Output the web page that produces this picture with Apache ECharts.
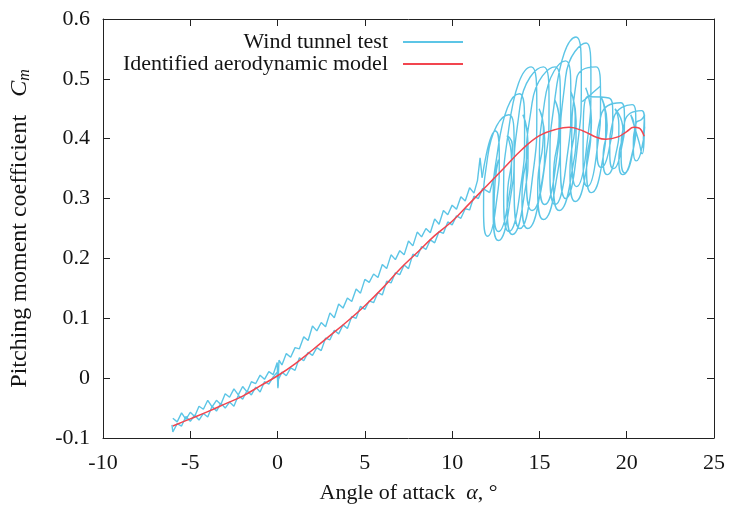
<!DOCTYPE html>
<html>
<head>
<meta charset="utf-8">
<script src="https://cdn.jsdelivr.net/npm/echarts@6/dist/echarts.min.js"></script>
<style>html,body{margin:0;padding:0;background:#fff}#c{width:731px;height:509px}</style>
</head>
<body>
<div id="c"></div>
<script>
// ---- data ----
const xTicks = [-10, -5, 0, 5, 10, 15, 20, 25];
const yTicks = [-0.1, 0, 0.1, 0.2, 0.3, 0.4, 0.5, 0.6];

// Identified aerodynamic model
const modelAlpha = [-6,-5,-4,-3,-2,-1,0,1,2,3,4,5,6,7,8,9,10,11,12,13,14,15,16,16.7,17.5,18.3,18.8,19.5,20,20.4,20.7,21];
const modelCm = [-0.080,-0.068,-0.056,-0.043,-0.030,-0.013,0.004,0.024,0.047,0.071,0.095,0.121,0.150,0.182,0.210,0.238,0.262,0.292,0.322,0.352,0.382,0.405,0.416,0.419,0.413,0.402,0.399,0.403,0.412,0.419,0.418,0.404];

// Wind tunnel test: upper (increasing) branch
const testUp = [[-6.00,-0.067],[-5.75,-0.073],[-5.50,-0.058],[-5.25,-0.069],[-5.00,-0.057],[-4.75,-0.064],[-4.50,-0.047],[-4.25,-0.052],[-4.00,-0.037],[-3.75,-0.048],[-3.50,-0.037],[-3.25,-0.044],[-3.00,-0.026],[-2.75,-0.032],[-2.50,-0.018],[-2.25,-0.028],[-2.00,-0.014],[-1.75,-0.023],[-1.50,-0.006],[-1.25,-0.009],[-1.00,0.005],[-0.75,-0.002],[-0.50,0.011],[-0.25,0.006],[-0.02,0.026],[0.02,-0.014],[0.08,0.030],[0.25,0.022],[0.50,0.041],[0.75,0.035],[1.00,0.051],[1.25,0.049],[1.50,0.069],[1.75,0.063],[2.00,0.087],[2.25,0.079],[2.50,0.093],[2.75,0.086],[3.00,0.109],[3.25,0.101],[3.50,0.124],[3.75,0.117],[4.00,0.134],[4.25,0.128],[4.50,0.149],[4.75,0.142],[5.00,0.165],[5.25,0.160],[5.50,0.174],[5.75,0.168],[6.00,0.190],[6.25,0.183],[6.50,0.206],[6.75,0.198],[7.00,0.213],[7.25,0.206],[7.50,0.229],[7.75,0.221],[8.00,0.244],[8.25,0.236],[8.50,0.250],[8.75,0.243],[9.00,0.266],[9.25,0.257],[9.50,0.280],[9.75,0.273],[10.00,0.289],[10.25,0.282],[10.50,0.303],[10.75,0.296],[11.00,0.318],[11.25,0.309],[11.45,0.330],[11.60,0.368],[11.72,0.335]];

// Wind tunnel test: oscillation loops at high angle of attack
const testLoops = [[11.72,0.335],
[12.48,0.413],[12.70,0.369],[12.48,0.281],[12.03,0.237],[11.80,0.281],[12.03,0.369],
[13.25,0.440],[13.55,0.388],[13.25,0.283],[12.65,0.230],[12.35,0.283],[12.65,0.388],
[13.85,0.475],[14.15,0.418],[13.85,0.303],[13.25,0.245],[12.95,0.303],[13.25,0.418],
[14.53,0.520],[14.85,0.453],[14.53,0.318],[13.88,0.250],[13.55,0.318],[13.88,0.453],
[15.23,0.520],[15.55,0.460],[15.23,0.340],[14.58,0.280],[14.25,0.340],[14.58,0.460],
[15.90,0.520],[16.20,0.463],[15.90,0.348],[15.30,0.290],[15.00,0.348],[15.30,0.463],
[16.50,0.530],[16.80,0.470],[16.50,0.350],[15.90,0.290],[15.60,0.350],[15.90,0.470],
[17.10,0.570],[17.40,0.503],[17.10,0.368],[16.50,0.300],[16.20,0.368],[16.50,0.503],
[17.68,0.560],[17.95,0.500],[17.68,0.380],[17.13,0.320],[16.85,0.380],[17.13,0.500],
[18.25,0.520],[18.50,0.470],[18.25,0.370],[17.75,0.320],[17.50,0.370],[17.75,0.470],
[18.98,0.468],[19.20,0.439],[18.98,0.381],[18.53,0.352],[18.30,0.381],[18.53,0.439],
[19.66,0.460],[19.87,0.433],[19.66,0.378],[19.24,0.350],[19.03,0.378],[19.24,0.433],
[20.31,0.457],[20.52,0.429],[20.31,0.372],[19.89,0.343],[19.68,0.372],[19.89,0.429],
[20.86,0.447],[21.02,0.426],[20.86,0.384],[20.54,0.363],[20.38,0.384],[20.54,0.426],
[20.85,0.432],[21.02,0.440],[20.95,0.400],[21.03,0.420],[20.92,0.385],[21.00,0.405],[20.88,0.375],[20.70,0.395],
[20.23,0.440],[20.45,0.415],[20.23,0.365],[19.78,0.340],[19.55,0.365],[19.78,0.415],
[19.33,0.450],[19.55,0.423],[19.33,0.368],[18.88,0.340],[18.65,0.368],[18.88,0.423],
[18.53,0.470],[18.80,0.430],[18.53,0.350],[17.98,0.310],[17.70,0.350],[17.98,0.430],
[17.65,0.485],[17.95,0.438],[17.65,0.343],[17.05,0.295],[16.75,0.343],[17.05,0.438],
[16.78,0.480],[17.10,0.430],[16.78,0.330],[16.13,0.280],[15.80,0.330],[16.13,0.430],
[15.88,0.465],[16.20,0.415],[15.88,0.315],[15.23,0.265],[14.90,0.315],[15.23,0.415],
[14.98,0.450],[15.30,0.400],[14.98,0.300],[14.33,0.250],[14.00,0.300],[14.33,0.400],
[14.05,0.440],[14.35,0.390],[14.05,0.290],[13.45,0.240],[13.15,0.290],[13.45,0.390],
[13.15,0.405],[13.40,0.365],[13.15,0.285],[12.65,0.245],[12.40,0.285],[12.65,0.365],
[12.15,0.310]];

// short straight stroke inside the loop cloud
const testStroke = [[17.45,0.462],[17.80,0.470],[18.10,0.478],[18.50,0.488]];

// Wind tunnel test: lower (decreasing) branch
const testDown = [[12.15,0.310],[11.75,0.317],[11.50,0.300],[11.25,0.304],[11.00,0.281],[10.75,0.283],[10.50,0.267],[10.25,0.271],[10.00,0.256],[9.75,0.261],[9.50,0.242],[9.25,0.245],[9.00,0.226],[8.75,0.231],[8.50,0.215],[8.25,0.220],[8.00,0.203],[7.75,0.207],[7.50,0.183],[7.25,0.189],[7.00,0.173],[6.75,0.176],[6.50,0.159],[6.25,0.162],[6.00,0.139],[5.75,0.143],[5.50,0.126],[5.25,0.129],[5.00,0.115],[4.75,0.120],[4.50,0.100],[4.25,0.103],[4.00,0.083],[3.75,0.089],[3.50,0.074],[3.25,0.080],[3.00,0.064],[2.75,0.067],[2.50,0.046],[2.25,0.051],[2.00,0.038],[1.75,0.043],[1.50,0.029],[1.25,0.034],[1.00,0.013],[0.75,0.017],[0.50,0.004],[0.25,0.010],[0.05,-0.002],[0.02,-0.017],[-0.02,0.010],[-0.25,0.002],[-0.50,-0.010],[-0.75,-0.006],[-1.00,-0.023],[-1.25,-0.015],[-1.50,-0.028],[-1.75,-0.021],[-2.00,-0.035],[-2.25,-0.029],[-2.50,-0.047],[-2.75,-0.040],[-3.00,-0.050],[-3.25,-0.042],[-3.50,-0.055],[-3.75,-0.047],[-4.00,-0.065],[-4.25,-0.059],[-4.50,-0.070],[-4.75,-0.062],[-5.00,-0.072],[-5.25,-0.064],[-5.50,-0.080],[-5.75,-0.076],[-6.00,-0.090],[-6.05,-0.078]];

const seriesNames = ['Wind tunnel test', 'Identified aerodynamic model'];
const blue = '#5cc5e6';
const red = '#f2454f';
const FONT = '"Liberation Serif", "Times New Roman", serif';
const TXT = '#141414';

const modelData = modelAlpha.map((a, i) => [a, modelCm[i]]);

const chart = echarts.init(document.getElementById('c'), null, {renderer: 'canvas'});

const axisCommon = {
  type: 'value',
  axisLine: {show: true, onZero: false, lineStyle: {color: '#222', width: 1}},
  axisTick: {show: true, inside: true, length: 7, lineStyle: {color: '#222', width: 1}},
  splitLine: {show: false},
  axisLabel: {fontFamily: FONT, fontSize: 22, color: TXT}
};

const testLine = {width: 1.4, color: blue};

chart.setOption({
  animation: false,
  backgroundColor: '#fff',
  grid: {left: 100, right: 17, top: 19, bottom: 69, containLabel: false},
  legend: {
    orient: 'vertical', right: 268, top: 31, padding: 0,
    align: 'right', itemWidth: 60, itemHeight: 2, itemGap: 0,
    selectedMode: false,
    textStyle: {fontFamily: FONT, fontSize: 22, color: TXT, padding: [0, 10, 0, 0], lineHeight: 21},
    data: [{name: seriesNames[0], icon: 'rect'}, {name: seriesNames[1], icon: 'rect'}]
  },
  xAxis: [
    Object.assign({}, axisCommon, {
      position: 'bottom', min: xTicks[0], max: xTicks[xTicks.length - 1], interval: 5,
      axisLabel: {fontFamily: FONT, fontSize: 22, color: TXT, margin: 14},
      name: 'Angle of attack  {a|α}, °', nameLocation: 'middle', nameGap: 44,
      nameTextStyle: {fontFamily: FONT, fontSize: 22, color: TXT,
        rich: {a: {fontFamily: FONT, fontSize: 22, fontStyle: 'italic', color: TXT}}}
    }),
    Object.assign({}, axisCommon, {
      position: 'top', min: xTicks[0], max: xTicks[xTicks.length - 1], interval: 5,
      axisLabel: {show: false}
    })
  ],
  yAxis: [
    Object.assign({}, axisCommon, {
      position: 'left', min: yTicks[0], max: yTicks[yTicks.length - 1], interval: 0.1,
      axisLabel: {fontFamily: FONT, fontSize: 22, color: TXT, margin: 13},
      name: 'Pitching moment coefficient   {c|C}{m|m}', nameLocation: 'middle', nameGap: 70,
      nameTextStyle: {fontFamily: FONT, fontSize: 24, color: TXT,
        rich: {
          c: {fontFamily: FONT, fontSize: 24, fontStyle: 'italic', color: TXT},
          m: {fontFamily: FONT, fontSize: 16, fontStyle: 'italic', color: TXT, padding: [10, 0, 0, 0]}
        }}
    }),
    Object.assign({}, axisCommon, {
      position: 'right', min: yTicks[0], max: yTicks[yTicks.length - 1], interval: 0.1,
      axisLabel: {show: false}
    })
  ],
  series: [
    {name: seriesNames[0], type: 'line', data: testUp, showSymbol: false, symbol: 'none',
      lineStyle: testLine, itemStyle: {color: blue}, z: 2},
    {name: seriesNames[0], type: 'line', data: testLoops, showSymbol: false, symbol: 'none', smooth: 0.6,
      lineStyle: testLine, itemStyle: {color: blue}, z: 2},
    {name: seriesNames[0], type: 'line', data: testStroke, showSymbol: false, symbol: 'none',
      lineStyle: testLine, itemStyle: {color: blue}, z: 2},
    {name: seriesNames[0], type: 'line', data: testDown, showSymbol: false, symbol: 'none',
      lineStyle: testLine, itemStyle: {color: blue}, z: 2},
    {name: seriesNames[1], type: 'line', data: modelData, showSymbol: false, symbol: 'none', smooth: 0.4,
      lineStyle: {width: 1.5, color: red}, itemStyle: {color: red}, z: 3}
  ]
});
</script>
</body>
</html>
